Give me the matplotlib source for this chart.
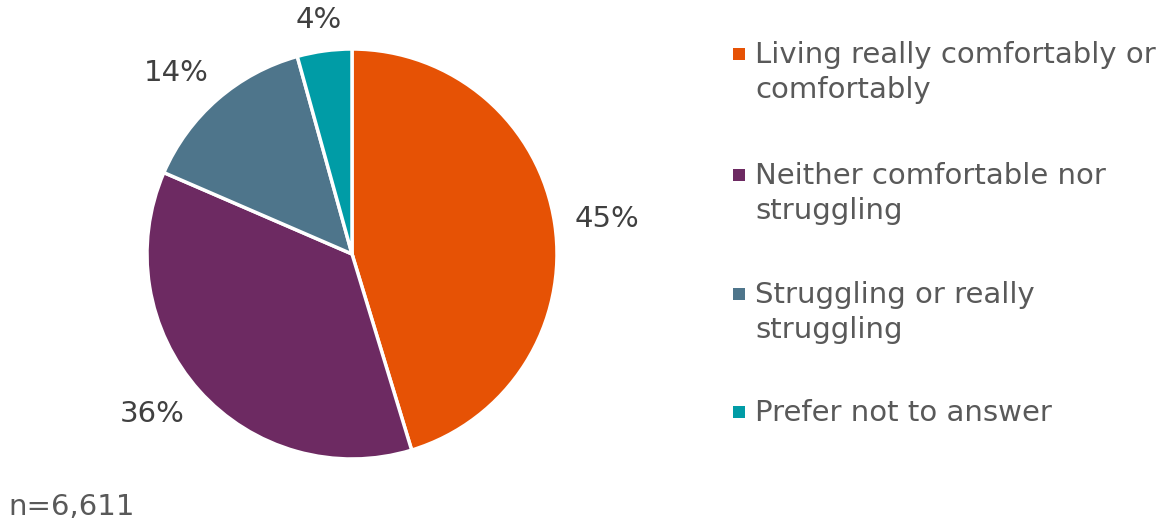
import matplotlib
matplotlib.use("Agg")
import matplotlib.pyplot as plt
import numpy as np

categories = ["Living really comfortably or\ncomfortably",
              "Neither comfortable nor\nstruggling",
              "Struggling or really\nstruggling",
              "Prefer not to answer"]
values = [45.3, 36.2, 14.2, 4.3]
pct_labels = ["45%", "36%", "14%", "4%"]
colors = ["#E65205", "#6D2A62", "#4E758B", "#009CA6"]
note = "n=6,611"

W, H = 1169, 523
FS = 21
fig = plt.figure(figsize=(W / 100, H / 100), dpi=100)
fig.patch.set_facecolor("white")

cx, cy, R = 352, 254, 205
ax = fig.add_axes([(cx - R) / W, (H - cy - R) / H, 2 * R / W, 2 * R / H])
wedges, _ = ax.pie(values, colors=colors, startangle=90, counterclock=False,
                   radius=1, wedgeprops=dict(edgecolor="white", linewidth=2.5))
ax.set_xlim(-1, 1)
ax.set_ylim(-1, 1)
ax.set_aspect("equal")
ax.axis("off")

# percentage labels placed just outside the circle
fig.canvas.draw()
renderer = fig.canvas.get_renderer()
gap = 20 / R
for w, lab in zip(wedges, pct_labels):
    ang = np.deg2rad((w.theta1 + w.theta2) / 2)
    ux, uy = np.cos(ang), np.sin(ang)
    m = max(abs(ux), abs(uy))
    t = ax.text(0, 0, lab, fontsize=FS, color="#404040", ha="center", va="center")
    bb = t.get_window_extent(renderer)
    hw, hh = bb.width / 2 / R, bb.height / 2 / R * 0.8
    t.set_position(((1 + gap) * ux + hw * ux / m, (1 + gap) * uy + hh * uy / m))

# legend drawn manually
text_color = "#595959"
baselines = [63, 184, 303, 421]
line_step = 35
for lab, col, yb in zip(categories, colors, baselines):
    fig.patches.append(plt.Rectangle((733 / W, (H - yb + 3) / H), 12 / W, 12 / H,
                                     transform=fig.transFigure, facecolor=col,
                                     edgecolor="none"))
    for i, line in enumerate(lab.split("\n")):
        fig.text(755 / W, (H - yb - i * line_step) / H, line, fontsize=FS,
                 color=text_color, va="baseline", ha="left")

fig.text(8 / W, (H - 515) / H, note, fontsize=FS, color=text_color,
         va="baseline", ha="left")

fig.savefig("out.png", dpi=100)
